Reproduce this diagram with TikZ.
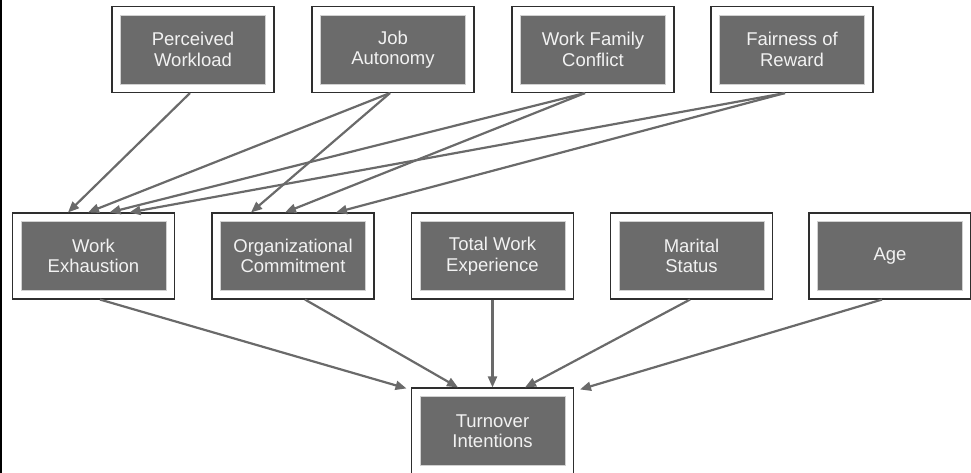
\documentclass[tikz,border=0pt]{standalone}
\usepackage{fontspec}
\setmainfont{Liberation Sans}
\usetikzlibrary{arrows.meta}
\definecolor{boxgray}{HTML}{6B6B6B}
\definecolor{linkgray}{HTML}{6A6A6A}
\definecolor{framedark}{HTML}{2E2E2E}
\definecolor{labelwhite}{HTML}{F2F2F2}
\begin{document}
\begin{tikzpicture}[x=1pt,y=-1pt,
  outerbox/.style={draw=framedark,line width=1.1pt,fill=white,rectangle,
    minimum width=162pt,minimum height=86pt,inner sep=0pt},
  innerbox/.style={draw=black!18,line width=0.6pt,fill=boxgray,rectangle,
    minimum width=145pt,minimum height=69pt,inner sep=0pt,
    text=labelwhite,align=center,font=\fontsize{18.5}{20.5}\selectfont},
  link/.style={draw=linkgray,line width=2.2pt,
    -{Triangle[length=11pt,width=9pt]}}]
\useasboundingbox (0,0) rectangle (971,473);
\draw[black,line width=1.5pt] (0.75,0) -- (0.75,473);

% antecedents
\node[outerbox] (pw)  at (193,49.5) {};
\node[innerbox] at (pw)  {Perceived\\Workload};
\node[outerbox] (ja)  at (393,49.5) {};
\node[innerbox] at (ja)  {Job\\Autonomy};
\node[outerbox] (wfc) at (593,49.5) {};
\node[innerbox] at (wfc) {Work Family\\Conflict};
\node[outerbox] (fr)  at (792,49.5) {};
\node[innerbox] at (fr)  {Fairness of\\Reward};

% mediators and controls
\node[outerbox] (we)  at (93.5,256) {};
\node[innerbox] at (we)  {Work\\Exhaustion};
\node[outerbox] (oc)  at (293,256) {};
\node[innerbox] at (oc)  {Organizational\\Commitment};
\node[outerbox] (twe) at (492.5,256) {};
\node[innerbox] at (twe) {Total Work\\Experience};
\node[outerbox] (ms)  at (691.5,256) {};
\node[innerbox] at (ms)  {Marital\\Status};
\node[outerbox] (age) at (890,256) {};
\node[innerbox] at (age) {Age};

% outcome
\node[outerbox] (ti)  at (492.5,431) {};
\node[innerbox] at (ti)  {Turnover\\Intentions};

% antecedents -> work exhaustion / commitment
\draw[link] ([xshift=-3pt]pw.south)  -- ([xshift=-25.5pt]we.north);
\draw[link] ([xshift=-3pt]ja.south)  -- ([xshift=-5.5pt]we.north);
\draw[link] ([xshift=-8pt]wfc.south) -- ([xshift=16pt]we.north);
\draw[link] ([xshift=-7pt]fr.south)  -- ([xshift=36pt]we.north);
\draw[link] ([xshift=-3pt]ja.south)  -- ([xshift=-42pt]oc.north);
\draw[link] ([xshift=-8pt]wfc.south) -- ([xshift=-8pt]oc.north);
\draw[link] ([xshift=-7pt]fr.south)  -- ([xshift=43pt]oc.north);

% everything -> turnover intentions
\draw[link] ([xshift=6.5pt]we.south)  -- ([xshift=-86pt,yshift=-1pt]ti.north);
\draw[link] ([xshift=12pt]oc.south)   -- ([xshift=-34.5pt]ti.north);
\draw[link] (twe.south)               -- (ti.north);
\draw[link] ([xshift=-1.5pt]ms.south) -- ([xshift=32.5pt]ti.north);
\draw[link] ([xshift=-8pt]age.south)  -- ([xshift=87.5pt,yshift=-2pt]ti.north);
\end{tikzpicture}
\end{document}
